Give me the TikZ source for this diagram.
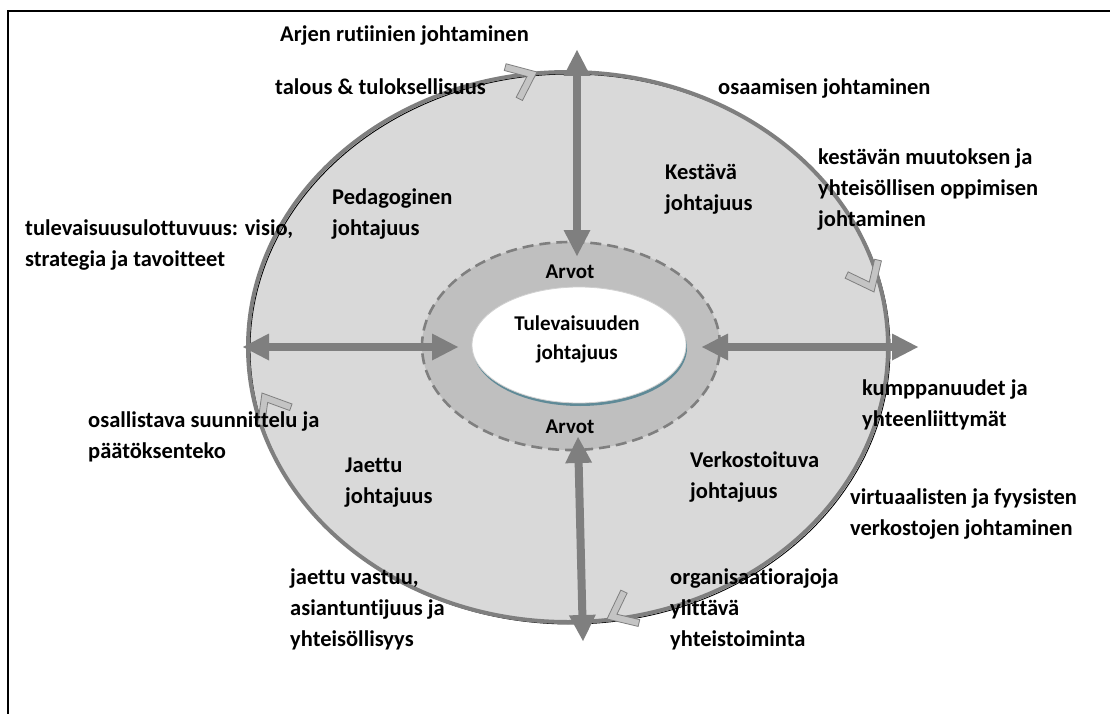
\documentclass[tikz,border=0pt]{standalone}
\usepackage{fontspec}
\setmainfont{Carlito}[Ligatures=NoCommon]
\usetikzlibrary{arrows.meta}
\definecolor{outerfill}{HTML}{D9D9D9}
\definecolor{ringfill}{HTML}{BFBFBF}
\definecolor{linegray}{HTML}{7F7F7F}
\definecolor{chevfill}{HTML}{C4C4C4}
\definecolor{coreshadow}{HTML}{5F8A97}
\definecolor{coreedge}{HTML}{D0D0D0}

\begin{document}
\begin{tikzpicture}[x=1pt,y=1pt,
  % multi-line labels are placed by the baseline of their last line
  lbl/.style={font=\bfseries\fontsize{22.5}{31}\selectfont, align=left, anchor=base west, inner sep=0pt},
  clbl/.style={font=\bfseries\fontsize{21}{29}\selectfont, align=center, anchor=base, inner sep=0pt},
  bigarrow/.style={draw=linegray, line width=8pt,
    {Triangle[length=26pt,width=27pt,line width=0pt]}-{Triangle[length=26pt,width=27pt,line width=0pt]}},
  chevron/.pic={
    \draw[draw=linegray, fill=chevfill, line width=0.8pt, line join=miter]
      (0,0) -- (-24.9,20.1) -- (-29.3,14.7) -- (-11,0) -- (-29.3,-14.7) -- (-24.9,-20.1) -- cycle;
  }
]
\useasboundingbox (0,0) rectangle (1110,-714);

% frame: left and top edges only
\draw[line width=2.5pt] (8,-720) -- (8,-11) -- (1115,-11);

% outer ring
\coordinate (outerC) at (568,-347);
\fill[outerfill] (outerC) ellipse [x radius=320, y radius=275];
\draw[black, line width=0.9pt] ([shift={(2,-2)}]outerC) ellipse [x radius=320, y radius=275];
\draw[linegray, line width=4pt] (outerC) ellipse [x radius=320, y radius=275];

% values ring
\coordinate (ringC) at (571,-346);
\draw[linegray, fill=ringfill, line width=2.6pt, dash pattern=on 11pt off 6pt]
  (ringC) ellipse [x radius=149, y radius=104];

% core
\coordinate (coreC) at (579,-345);
\fill[coreshadow] ([shift={(1,-3)}]coreC) ellipse [x radius=107, y radius=58];
\draw[coreedge, fill=white, line width=0.8pt] (coreC) ellipse [x radius=107, y radius=58];

% axis arrow end points
\coordinate (topOut) at (577,-50);
\coordinate (topIn) at (577,-256);
\coordinate (botIn) at (578,-437);
\coordinate (botOut) at (583,-641);
\coordinate (leftOut) at (243,-347);
\coordinate (leftIn) at (458,-347);
\coordinate (rightIn) at (702,-347);
\coordinate (rightOut) at (918,-347);

\draw[bigarrow] (topOut) -- (topIn);
\draw[bigarrow] (botIn) -- (botOut);
\draw[bigarrow] (leftOut) -- (leftIn);
\draw[bigarrow] (rightIn) -- (rightOut);

% clockwise direction marks on the outer ring
\pic[rotate=24] at (537,-72) {chevron};
\pic[rotate=-64.5] at (874,-292) {chevron};
\pic[rotate=205.5] at (607,-619) {chevron};
\pic[rotate=121] at (262,-393) {chevron};

% labels
\node[lbl] (arjen) at (280,-42) {Arjen rutiinien johtaminen};
\node[lbl] (talous) at (275,-95) {talous \& tuloksellisuus};
\node[lbl] (osaaminen) at (718,-95) {osaamisen johtaminen};
\node[lbl] (pedag) at (332,-235) {Pedagoginen\\johtajuus};
\node[lbl] (kestava) at (665,-210) {Kestävä\\johtajuus};
\node[lbl] (muutos) at (818,-226) {kestävän muutoksen ja\\yhteisöllisen oppimisen\\johtaminen};
\node[lbl] (visio) at (25,-266) {tulevaisuusulottuvuus: visio,\\strategia ja tavoitteet};
\node[clbl] (arvotTop) at (570,-278) {Arvot};
\node[clbl] (core) at (577,-359) {Tulevaisuuden\\johtajuus};
\node[lbl] (kumpp) at (862,-426) {kumppanuudet ja\\yhteenliittymät};
\node[lbl] (osall) at (88,-458) {osallistava suunnittelu ja\\päätöksenteko};
\node[clbl] (arvotBot) at (570,-433) {Arvot};
\node[lbl] (jaettu) at (345,-503) {Jaettu\\johtajuus};
\node[lbl] (verkosto) at (690,-498) {Verkostoituva\\johtajuus};
\node[lbl] (virtuaal) at (850,-535) {virtuaalisten ja fyysisten\\verkostojen johtaminen};
\node[lbl] (vastuu) at (290,-646) {jaettu vastuu,\\asiantuntijuus ja\\yhteisöllisyys};
\node[lbl] (rajat) at (670,-646) {organisaatiorajoja\\ylittävä\\yhteistoiminta};
\end{tikzpicture}
\end{document}
